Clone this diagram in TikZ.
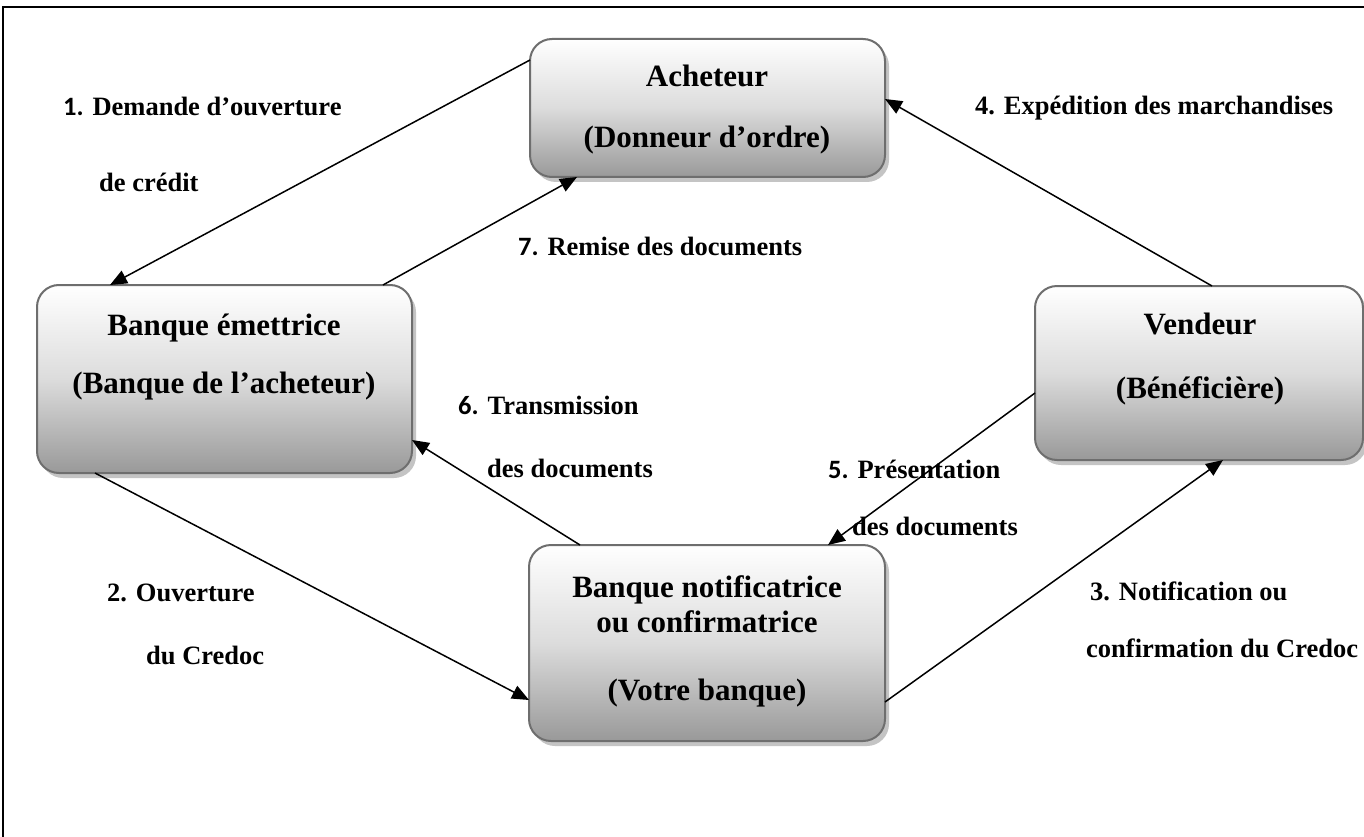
\documentclass[tikz,border=0pt]{standalone}
\usepackage{fontspec}
\setmainfont{Liberation Serif}
\newfontfamily\numfont{Carlito}
\usetikzlibrary{arrows.meta,shadows}
\definecolor{boxedge}{HTML}{6E6E6E}
\definecolor{boxmid}{HTML}{DCDCDC}
\definecolor{boxbot}{HTML}{999999}
\definecolor{boxshadow}{HTML}{C4C4C4}
\begin{document}
\begin{tikzpicture}[x=1pt,y=-1pt,
  flowbox/.style={rectangle, rounded corners=22pt, draw=boxedge, line width=2pt,
    top color=white, bottom color=boxbot, middle color=boxmid,
    inner sep=0pt, outer sep=0pt,
    drop shadow={shadow xshift=4pt, shadow yshift=-5pt, fill=boxshadow, opacity=1}},
  boxtext/.style={anchor=base, inner sep=0pt, font=\fontsize{31}{36}\selectfont\bfseries},
  lbl/.style={anchor=base west, inner sep=0pt, font=\fontsize{26.5}{30}\selectfont\bfseries},
  arr/.style={line width=1.5pt, -{Triangle[length=17pt,width=14pt]}},
]
\useasboundingbox (0,0) rectangle (1364,837);
\clip (0,0) rectangle (1364,837);
\fill[white] (0,0) rectangle (1364,837);

% page frame
\draw[line width=2pt] (1380,7) -- (3,7) -- (3,850);

% parties
\node[flowbox, minimum width=355pt, minimum height=138pt] (ach) at (707.5,108) {};
\node[flowbox, minimum width=375pt, minimum height=188pt] (emt) at (224.5,379) {};
\node[flowbox, minimum width=328pt, minimum height=174pt] (ven) at (1199,373) {};
\node[flowbox, minimum width=356pt, minimum height=196pt] (not) at (707,643) {};

\node[boxtext] (ach1) at (707,87) {Acheteur};
\node[boxtext] (ach2) at (707,148) {(Donneur d’ordre)};
\node[boxtext] (emt1) at (224,335) {Banque émettrice};
\node[boxtext] (emt2) at (224,393) {(Banque de l’acheteur)};
\node[boxtext] (ven1) at (1200,334) {Vendeur};
\node[boxtext] (ven2) at (1200,398) {(Bénéficière)};
\node[boxtext] (not1) at (707,597) {Banque notificatrice};
\node[boxtext] (not2) at (707,632) {ou confirmatrice};
\node[boxtext] (not3) at (707,700) {(Votre banque)};

% flows
\draw[arr] ([yshift=48pt]ach.west) -- ([xshift=-114.5pt]emt.north);
\draw[arr] ([xshift=-129.5pt]emt.south) -- ([yshift=-57pt]not.west);
\draw[arr] ([yshift=-59pt]not.east) -- ([xshift=24pt]ven.south);
\draw[arr] ([xshift=13pt]ven.north) -- ([yshift=9pt]ach.east);
\draw[arr] ([yshift=-20pt]ven.west) -- ([xshift=121pt]not.north);
\draw[arr] ([xshift=-127pt]not.north) -- ([yshift=-61pt]emt.east);
\draw[arr] ([xshift=158.5pt]emt.north) -- ([xshift=-130.5pt]ach.south);

% step labels
\node[lbl] (l1a) at (63,116) {{\numfont 1.} Demande d’ouverture};
\node[lbl] (l1b) at (99,192) {de crédit};
\node[lbl] (l2a) at (107,601) {2. Ouverture};
\node[lbl] (l2b) at (146,664) {du Credoc};
\node[lbl] (l3a) at (1090,600) {3. Notification ou};
\node[lbl] (l3b) at (1086,657) {confirmation du Credoc};
\node[lbl] (l4) at (975,115) {4. Expédition des marchandises};
\node[lbl] (l5a) at (828,478) {{\numfont 5.} Présentation};
\node[lbl] (l5b) at (852,535) {des documents};
\node[lbl] (l6a) at (458,414) {{\numfont 6.} Transmission};
\node[lbl] (l6b) at (487,477) {des documents};
\node[lbl] (l7) at (518,255) {{\numfont 7.} Remise des documents};
\end{tikzpicture}
\end{document}
